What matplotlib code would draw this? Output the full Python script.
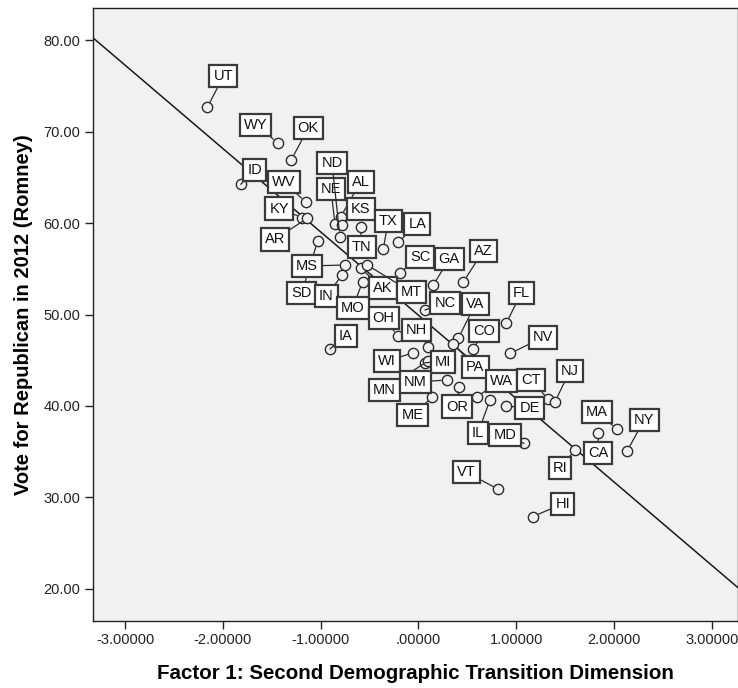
import matplotlib
matplotlib.use("Agg")
import matplotlib.pyplot as plt
import numpy as np
from matplotlib.ticker import FuncFormatter, MultipleLocator

# data (factor score, Romney vote share %)
states = ["UT", "WY", "OK", "ID", "WV", "KY", "AR", "NE", "AL", "KS",
          "ND", "TN", "SD", "MS", "IN", "MO", "AK", "MT", "SC", "LA",
          "TX", "GA", "AZ", "NC", "VA", "CO", "PA", "FL", "NV", "OH",
          "NH", "IA", "WI", "MI", "MN", "NM", "ME", "OR", "WA", "IL",
          "DE", "CT", "NJ", "MD", "CA", "MA", "RI", "NY", "VT", "HI"]
factor1 = [-2.159, -1.440, -1.301, -1.818, -1.153, -1.190, -1.140, -0.854, -0.795, -0.785,
           -0.803, -0.591, -1.031, -0.752, -0.780, -0.571, -0.591, -0.524, -0.189, -0.207,
           -0.360, 0.151, 0.458, 0.066, 0.407, 0.560, 0.356, 0.898, 0.936, -0.213,
           0.100, -0.905, -0.053, 0.066, 0.100, 0.288, 0.143, 0.414, 0.595, 0.731,
           0.892, 1.327, 1.396, 1.079, 1.838, 2.027, 1.600, 2.135, 0.816, 1.168]
romney = [72.64, 68.78, 66.89, 64.23, 62.30, 60.60, 60.50, 59.89, 60.69, 59.78,
          58.50, 59.53, 58.03, 55.41, 54.32, 53.58, 55.05, 55.41, 54.57, 57.89,
          57.16, 53.22, 53.55, 50.49, 47.40, 46.23, 46.78, 49.07, 45.74, 47.68,
          46.48, 46.23, 45.81, 44.73, 44.95, 42.84, 40.98, 42.13, 41.02, 40.66,
          40.00, 40.73, 40.47, 35.92, 37.08, 37.49, 35.19, 35.11, 30.90, 27.90]

# label box offsets from each point, in pixels (x right, y up)
label_offsets = {
    "UT": (16, 31), "WY": (-22, 18), "OK": (17, 32), "ID": (14, 14), "WV": (-22, 20),
    "KY": (-23, 9), "AR": (-32, -21), "NE": (-4, 35), "AL": (20, 35), "KS": (19, 16),
    "ND": (-8, 74), "TN": (1, -20), "SD": (-16, -52), "MS": (-38, -1), "IN": (-16, -21),
    "MO": (-10, -26), "AK": (22, -20), "MT": (44, -27), "SC": (20, 16), "LA": (19, 18),
    "TX": (5, 28), "GA": (16, 26), "AZ": (20, 31), "NC": (20, 7), "VA": (17, 34),
    "CO": (11, 18), "PA": (22, -23), "FL": (15, 30), "NV": (33, 16), "OH": (-14, 18),
    "NH": (-12, 17), "IA": (16, 13), "WI": (-26, -8), "MI": (18, 1), "MN": (-44, -29),
    "NM": (-31, -2), "ME": (-20, -18), "OR": (-2, -20), "WA": (25, 16), "IL": (-12, -33),
    "DE": (24, -2), "CT": (-17, 19), "NJ": (15, 31), "MD": (-19, 8), "CA": (0, -20),
    "MA": (-20, 17), "RI": (-15, -18), "NY": (17, 31), "VT": (-32, 17), "HI": (30, 13),
}

plt.rcParams['font.family'] = ['Liberation Sans', 'DejaVu Sans']

fig = plt.figure(figsize=(7.38, 6.88), dpi=100)
ax = fig.add_axes([93 / 738, 67 / 688, 645 / 738, 613 / 688])
ax.set_facecolor("#f0f1f0")

x = np.array(factor1)
y = np.array(romney)

# fit line
slope, intercept = np.polyfit(x, y, 1)
xlim = (-3.328, 3.267)
xs = np.array(xlim)
ax.plot(xs, intercept + slope * xs, color="#1a1a1a", lw=1.1, zorder=2)

ax.scatter(x, y, s=55, facecolors="#f0f1f0", edgecolors="#2a2a2a",
           linewidths=1.0, zorder=3)

for name, px, py in zip(states, x, y):
    dx, dy = label_offsets[name]
    ax.annotate(name, (px, py), xytext=(dx, dy), textcoords="offset pixels",
                ha="center", va="center", fontsize=10.5, color="#111111",
                bbox=dict(boxstyle="square,pad=0.28", fc="white", ec="#3a3a3a", lw=1.6),
                arrowprops=dict(arrowstyle="-", color="#2a2a2a", lw=0.9,
                                shrinkA=0, shrinkB=4),
                zorder=4)

ax.set_xlim(*xlim)
ax.set_ylim(16.5, 83.5)
ax.xaxis.set_major_locator(MultipleLocator(1))
ax.yaxis.set_major_locator(MultipleLocator(10))


def fmt_x(v, pos):
    s = f"{v:.5f}"
    if s in ("0.00000", "-0.00000"):
        return ".00000"
    return s


ax.xaxis.set_major_formatter(FuncFormatter(fmt_x))
ax.yaxis.set_major_formatter(FuncFormatter(lambda v, pos: f"{v:.2f}"))
ax.tick_params(direction="out", length=6, width=1, color="#222222",
               labelsize=10.5, labelcolor="#222222", pad=3)

for sp in ax.spines.values():
    sp.set_color("#222222")
    sp.set_linewidth(1.0)

ax.set_xlabel("Factor 1: Second Demographic Transition Dimension",
              fontsize=14.8, fontweight="bold", labelpad=12)
ax.set_ylabel("Vote for Republican in 2012 (Romney)",
              fontsize=14.5, fontweight="bold", labelpad=8)

plt.savefig("out.png", dpi=100)
